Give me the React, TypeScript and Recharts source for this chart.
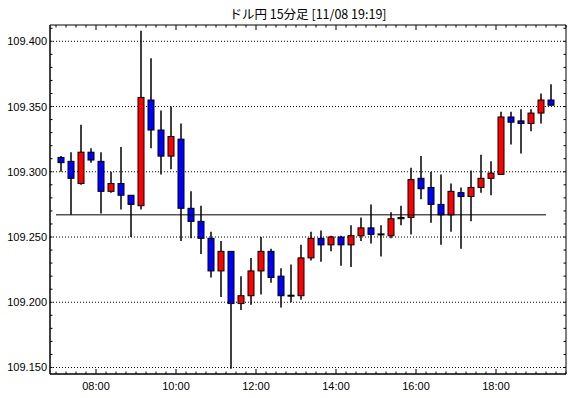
import { ComposedChart, Bar, XAxis, YAxis, CartesianGrid, ReferenceLine, ReferenceArea } from 'recharts';

const TITLE = 'ドル円 15分足 [11/08 19:19]';

// 15-minute candles, start time of each bar
const TIMES = [
  '07:00', '07:15', '07:30', '07:45', '08:00', '08:15', '08:30', '08:45',
  '09:00', '09:15', '09:30', '09:45', '10:00', '10:15', '10:30', '10:45',
  '11:00', '11:15', '11:30', '11:45', '12:00', '12:15', '12:30', '12:45',
  '13:00', '13:15', '13:30', '13:45', '14:00', '14:15', '14:30', '14:45',
  '15:00', '15:15', '15:30', '15:45', '16:00', '16:15', '16:30', '16:45',
  '17:00', '17:15', '17:30', '17:45', '18:00', '18:15', '18:30', '18:45',
  '19:00', '19:15',
];
const OPEN = [
  109.311, 109.308, 109.291, 109.315, 109.308, 109.285, 109.291, 109.282,
  109.274, 109.355, 109.332, 109.312, 109.325, 109.272, 109.262, 109.249,
  109.224, 109.239, 109.199, 109.205, 109.224, 109.239, 109.220, 109.205,
  109.205, 109.234, 109.249, 109.244, 109.250, 109.244, 109.251, 109.257,
  109.252, 109.251, 109.264, 109.265, 109.295, 109.288, 109.275, 109.267,
  109.284, 109.281, 109.288, 109.295, 109.298, 109.342, 109.339, 109.337,
  109.345, 109.355,
];
const HIGH = [
  109.312, 109.315, 109.336, 109.318, 109.315, 109.300, 109.319, 109.282,
  109.408, 109.387, 109.347, 109.350, 109.337, 109.285, 109.274, 109.254,
  109.247, 109.239, 109.220, 109.234, 109.250, 109.241, 109.226, 109.229,
  109.244, 109.254, 109.255, 109.251, 109.251, 109.259, 109.265, 109.275,
  109.259, 109.269, 109.274, 109.303, 109.312, 109.300, 109.298, 109.291,
  109.288, 109.301, 109.313, 109.308, 109.346, 109.346, 109.348, 109.348,
  109.360, 109.367,
];
const LOW = [
  109.300, 109.267, 109.290, 109.307, 109.268, 109.284, 109.271, 109.250,
  109.271, 109.318, 109.298, 109.302, 109.247, 109.249, 109.237, 109.219,
  109.204, 109.149, 109.194, 109.198, 109.206, 109.215, 109.196, 109.200,
  109.202, 109.232, 109.231, 109.239, 109.228, 109.227, 109.247, 109.245,
  109.235, 109.249, 109.259, 109.252, 109.279, 109.261, 109.244, 109.254,
  109.241, 109.262, 109.284, 109.282, 109.298, 109.321, 109.314, 109.331,
  109.337, 109.351,
];
const CLOSE = [
  109.307, 109.295, 109.315, 109.309, 109.285, 109.291, 109.282, 109.275,
  109.357, 109.332, 109.312, 109.327, 109.272, 109.262, 109.249, 109.224,
  109.239, 109.199, 109.205, 109.224, 109.239, 109.219, 109.205, 109.205,
  109.234, 109.249, 109.244, 109.250, 109.244, 109.251, 109.257, 109.252,
  109.252, 109.264, 109.265, 109.294, 109.287, 109.275, 109.267, 109.285,
  109.281, 109.288, 109.295, 109.299, 109.342, 109.338, 109.337, 109.345,
  109.355, 109.351,
];
const REF_LEVEL = 109.267;

const Y_LABELS = [109.15, 109.2, 109.25, 109.3, 109.35, 109.4];
const X_LABELS = ['08:00', '10:00', '12:00', '14:00', '16:00', '18:00'];

const toMin = (s: string) => {
  const [h, m] = s.split(':').map(Number);
  return h * 60 + m;
};
const fmtMin = (v: number) =>
  `${String(Math.floor(v / 60)).padStart(2, '0')}:${String(v % 60).padStart(2, '0')}`;

// candles sit in the middle of their 15 minute slot
const data = TIMES.map((t, i) => ({
  t: toMin(t) + 7.5,
  open: OPEN[i],
  high: HIGH[i],
  low: LOW[i],
  close: CLOSE[i],
}));

const W = 570;
const H = 398;
const MARGIN = { top: 25, right: 4, bottom: 0, left: 0 };
const Y_AXIS_W = 50;
const X_AXIS_H = 24;
const PLOT_W = W - MARGIN.left - MARGIN.right - Y_AXIS_W;
const PLOT_H = H - MARGIN.top - MARGIN.bottom - X_AXIS_H;

const X_DOMAIN = [411, 1185];
const Y_DOMAIN = [109.145, 109.4125];
const majorX = X_LABELS.map(toMin);
const xTicks: number[] = [];
for (let m = 420; m <= 1185; m += 15) xTicks.push(m);
const yTicks: number[] = [];
for (let k = 10915; k <= 10941; k++) yTicks.push(k / 100);
const isMajorY = (v: number) => Math.round(v * 100) % 5 === 0;

const FONT = '"Liberation Sans", Arial, sans-serif';

const Candle = (props: any) => {
  const { x, y, width, height, payload } = props;
  if (!payload || width == null) return null;
  const { open, close, high, low } = payload;
  const top = Math.min(y, y + height);
  const h = Math.abs(height);
  const ratio = h / (high - low);
  const cx = x + width / 2;
  const bTop = top + (high - Math.max(open, close)) * ratio;
  const bBot = top + (high - Math.min(open, close)) * ratio;
  const up = close > open;
  const flat = bBot - bTop < 1;
  return (
    <g>
      <line x1={cx} x2={cx} y1={top} y2={top + h} stroke="#000" strokeWidth={1.5} />
      {flat ? (
        <rect x={cx - 3.5} y={bTop - 1} width={7} height={2} fill="#000" />
      ) : (
        <rect
          x={cx - 3}
          y={bTop}
          width={6}
          height={bBot - bTop}
          fill={up ? '#ff0000' : '#0000ff'}
          stroke="#000"
          strokeWidth={1}
        />
      )}
    </g>
  );
};

// inward ticks on bottom and top edges
const XTick = ({ x, y, payload }: any) => {
  const major = majorX.includes(payload.value);
  const len = major ? 5 : 2.5;
  return (
    <g>
      <line x1={x} x2={x} y1={y} y2={y - len} stroke="#000" />
      <line x1={x} x2={x} y1={y - PLOT_H} y2={y - PLOT_H + len} stroke="#000" />
      {major && (
        <text x={x} y={y + 16} textAnchor="middle" fontSize={11} fontFamily={FONT} fill="#000">
          {fmtMin(payload.value)}
        </text>
      )}
    </g>
  );
};

// inward ticks on left and right edges
const YTick = ({ x, y, payload }: any) => (
  <g>
    <line x1={x} x2={x + 2.5} y1={y} y2={y} stroke="#000" />
    <line x1={x + PLOT_W} x2={x + PLOT_W - 2.5} y1={y} y2={y} stroke="#000" />
    {isMajorY(payload.value) && (
      <text x={x - 3} y={y + 4} textAnchor="end" fontSize={11} fontFamily={FONT} fill="#000">
        {payload.value.toFixed(3)}
      </text>
    )}
  </g>
);

export default function App() {
  return (
    <div style={{ position: 'relative', width: W, height: H, background: '#fff' }}>
      <style>{'body{margin:0}'}</style>
      <div
        style={{
          position: 'absolute',
          left: Y_AXIS_W,
          width: PLOT_W,
          top: 6,
          textAlign: 'center',
          fontSize: 12.5,
          fontFamily: '"Noto Sans CJK JP", sans-serif',
          color: '#000',
          lineHeight: '16px',
        }}
      >
        {TITLE}
      </div>
      <ComposedChart width={W} height={H} data={data} margin={MARGIN}>
        <CartesianGrid
          horizontal
          vertical={false}
          horizontalValues={Y_LABELS}
          stroke="#000"
          strokeDasharray="1 2"
        />
        <XAxis
          dataKey="t"
          type="number"
          domain={X_DOMAIN}
          ticks={xTicks}
          interval={0}
          height={X_AXIS_H}
          tickSize={0}
          tickMargin={0}
          tickLine={false}
          axisLine={{ stroke: '#000' }}
          tick={<XTick />}
          allowDataOverflow
        />
        <YAxis
          type="number"
          domain={Y_DOMAIN}
          ticks={yTicks}
          interval={0}
          width={Y_AXIS_W}
          tickSize={0}
          tickMargin={0}
          tickLine={false}
          axisLine={{ stroke: '#000' }}
          tick={<YTick />}
          allowDataOverflow
        />
        <ReferenceArea
          x1={X_DOMAIN[0]}
          x2={X_DOMAIN[1]}
          y1={Y_DOMAIN[0]}
          y2={Y_DOMAIN[1]}
          fill="none"
          stroke="#000"
          strokeWidth={1}
          ifOverflow="visible"
        />
        <ReferenceLine
          segment={[
            { x: toMin(TIMES[0]), y: REF_LEVEL },
            { x: toMin(TIMES[TIMES.length - 1]), y: REF_LEVEL },
          ]}
          stroke="#000"
          strokeWidth={1}
        />
        <Bar
          dataKey={(d: any) => [d.low, d.high]}
          barSize={8}
          shape={<Candle />}
          isAnimationActive={false}
        />
      </ComposedChart>
    </div>
  );
}
